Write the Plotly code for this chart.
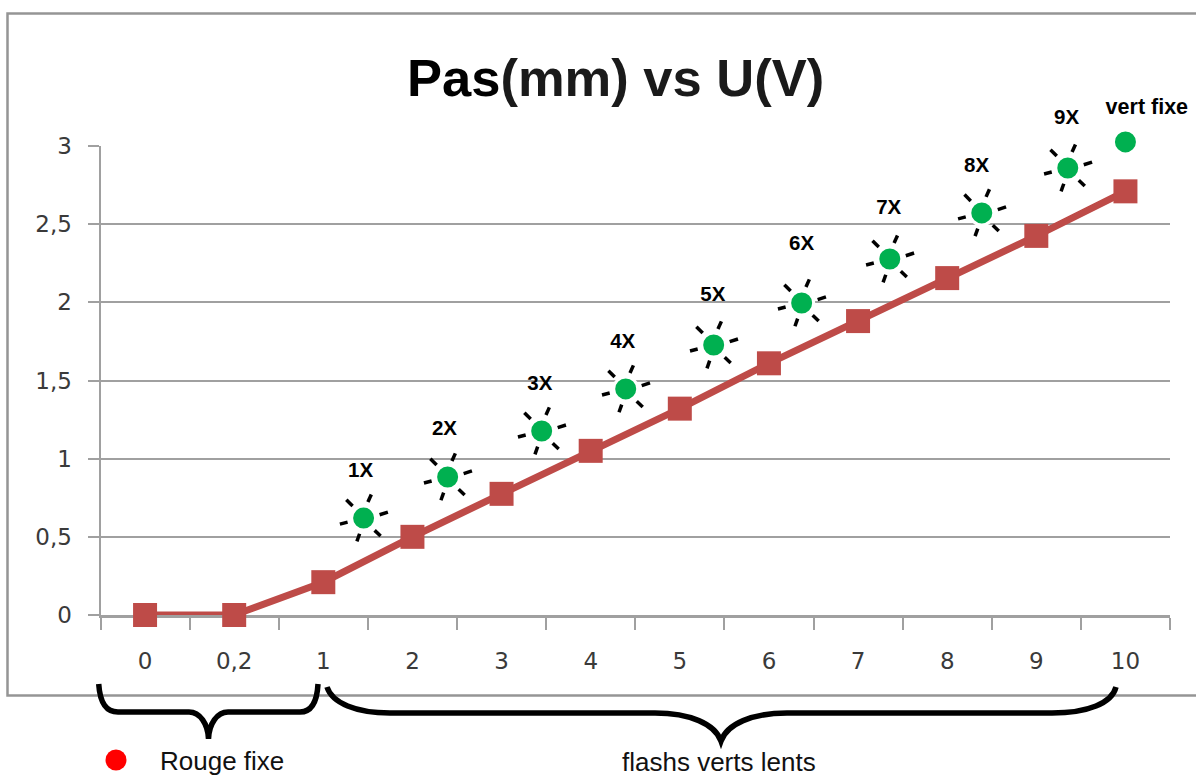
import plotly.graph_objects as go

# --- data ---
categories = ["0", "0,2", "1", "2", "3", "4", "5", "6", "7", "8", "9", "10"]
pas_mm = [0, 0, 0.21, 0.5, 0.775, 1.05, 1.32, 1.61, 1.88, 2.155, 2.425, 2.71]

led_x = [2.452, 3.395, 4.45, 5.393, 6.38, 7.367, 8.356, 9.388, 10.353, 11.0]
led_y = [0.62, 0.883, 1.177, 1.446, 1.727, 1.996, 2.277, 2.572, 2.859, 3.026]

label_text = ["1X", "2X", "3X", "4X", "5X", "6X", "7X", "8X", "9X", "vert fixe"]
label_x = [2.419, 3.36, 4.43, 5.36, 6.37, 7.367, 8.344, 9.33, 10.34, 11.24]
label_y = [0.915, 1.183, 1.471, 1.74, 2.04, 2.367, 2.597, 2.866, 3.173, 3.237]

y_ticks = [0, 0.5, 1, 1.5, 2, 2.5, 3]
y_labels = ["0", "0,5", "1", "1,5", "2", "2,5", "3"]

W, H = 1196, 776
LEFT, RIGHT, TOP, BOTTOM = 100.5, 1170, 146, 615
OVER_TOP = 60   # overlay axis reaches above the plot so the top labels stay visible
GRAY = "#a0a0a0"
AXFONT = dict(family="DejaVu Sans", size=23, color="#3a3a3a")
OVER_MAX = 3 * (BOTTOM - OVER_TOP) / (BOTTOM - TOP)


def px(x):
    return x / W


def py(y):
    return 1 - y / H


def path(*segments):
    out = []
    for seg in segments:
        cmd, pts = seg[0], seg[1:]
        out.append(cmd + " ".join(f"{px(a):.5f},{py(b):.5f}" for a, b in pts))
    return " ".join(out)


shapes = [
    # outer chart frame
    dict(type="path", xref="paper", yref="paper", layer="below",
         path=path(("M", (1196, 13.5)), ("L", (7.5, 13.5)), ("L", (7.5, 695.5)), ("L", (1196, 695.5))),
         line=dict(color="#959595", width=2.5)),
    # left brace
    dict(type="path", xref="paper", yref="paper",
         path=path(("M", (98.7, 684)), ("C", (100, 703), (106, 712), (118, 712)), ("L", (189, 712)),
                   ("C", (200, 712), (208, 724), (208.5, 739)),
                   ("C", (209, 724), (217, 712), (228, 712)), ("L", (300, 712)),
                   ("C", (311, 712), (317, 703), (318, 684))),
         line=dict(color="black", width=5.5)),
    # right brace
    dict(type="path", xref="paper", yref="paper",
         path=path(("M", (327, 687)), ("C", (332, 703), (356, 713), (390, 713)), ("L", (655, 713)),
                   ("C", (690, 713), (715, 724), (721, 741)),
                   ("C", (727, 724), (752, 713), (787, 713)), ("L", (1052, 713)),
                   ("C", (1088, 713), (1112, 703), (1116, 687))),
         line=dict(color="black", width=5.5)),
    # red status dot
    dict(type="circle", xref="paper", yref="paper",
         x0=px(105.5), x1=px(126.5), y0=py(770.5), y1=py(749.5),
         fillcolor="#ff0000", line=dict(width=0)),
]

# six short dashes round each flashing LED
RAYS = [((4.3, -16), (7.7, -23.6)), ((16, -3.3), (24.3, -6)), ((11, 12.3), (17, 18)),
        ((-4, 15.7), (-6.7, 23.3)), ((-16, 4), (-23.7, 6)), ((-11, -12), (-17.3, -18.3))]
for lx, ly in zip(led_x[:-1], led_y[:-1]):
    for (a, b), (c, d) in RAYS:
        shapes.append(dict(type="line", xref="x2", yref="y2", xsizemode="pixel", ysizemode="pixel",
                           xanchor=lx, yanchor=ly, x0=a, x1=c, y0=-b, y1=-d,
                           line=dict(color="black", width=3.5)))

fig = go.Figure()
fig.add_trace(go.Scatter(
    x=categories, y=pas_mm, mode="lines+markers", cliponaxis=False,
    line=dict(color="#BE4B48", width=7),
    marker=dict(symbol="square", size=24, color="#BE4B48"),
    showlegend=False, hoverinfo="skip"))
fig.add_trace(go.Scatter(
    x=led_x, y=led_y, xaxis="x2", yaxis="y2", mode="markers", cliponaxis=False,
    marker=dict(size=24, color="#00B050", line=dict(color="white", width=3)),
    showlegend=False, hoverinfo="skip"))
fig.add_trace(go.Scatter(
    x=label_x, y=label_y, xaxis="x2", yaxis="y2", mode="text", cliponaxis=False, text=label_text,
    textposition="middle center",
    textfont=dict(family="Liberation Sans", size=[20.5] * 9 + [21.5], color="black", weight="bold"),
    showlegend=False, hoverinfo="skip"))

fig.update_layout(
    width=W, height=H, margin=dict(l=0, r=0, t=0, b=0, pad=0),
    paper_bgcolor="white", plot_bgcolor="rgba(0,0,0,0)", shapes=shapes,
    xaxis=dict(type="category", categoryorder="array", categoryarray=categories,
               domain=[px(LEFT), px(RIGHT)], tickson="boundaries", ticks="outside", ticklen=12,
               tickwidth=2, tickcolor=GRAY, showline=True, linecolor=GRAY, linewidth=2.5,
               showgrid=False, tickfont=AXFONT, ticklabelstandoff=24, range=[-0.5, 11.5],
               automargin=False, layer="below traces"),
    xaxis2=dict(overlaying="x", anchor="y2", domain=[px(LEFT), px(RIGHT)], range=[-0.5, 11.5], visible=False),
    yaxis=dict(domain=[py(BOTTOM), py(TOP)], range=[0, 3], tickvals=y_ticks, ticktext=y_labels,
               ticks="outside", ticklen=11, tickwidth=2, tickcolor=GRAY, showline=True,
               linecolor=GRAY, linewidth=2, showgrid=True, gridcolor=GRAY, gridwidth=2,
               zeroline=False, tickfont=AXFONT, ticklabelstandoff=11, automargin=False,
               layer="below traces"),
    yaxis2=dict(anchor="x2", domain=[py(BOTTOM), py(OVER_TOP)], range=[0, OVER_MAX], visible=False),
    annotations=[
        dict(text="<b>Pas</b><b><span style='color:#1a1a1a'>(mm) vs U(V)</span></b>",
             xref="paper", yref="paper", x=px(615.5), y=py(78), yanchor="middle", showarrow=False,
             font=dict(family="Liberation Sans", size=52.5, color="black")),
        dict(text="Rouge fixe", xref="paper", yref="paper", x=px(157.5), y=py(761), xanchor="left",
             yanchor="middle", showarrow=False, font=dict(family="Liberation Sans", size=26, color="#111111")),
        dict(text="flashs verts lents", xref="paper", yref="paper", x=px(719), y=py(762),
             yanchor="middle", showarrow=False, font=dict(family="Liberation Sans", size=26, color="#111111")),
    ],
)

fig.write_html("out.html", config=dict(displayModeBar=False),
               post_script="document.body.style.margin='0';")
